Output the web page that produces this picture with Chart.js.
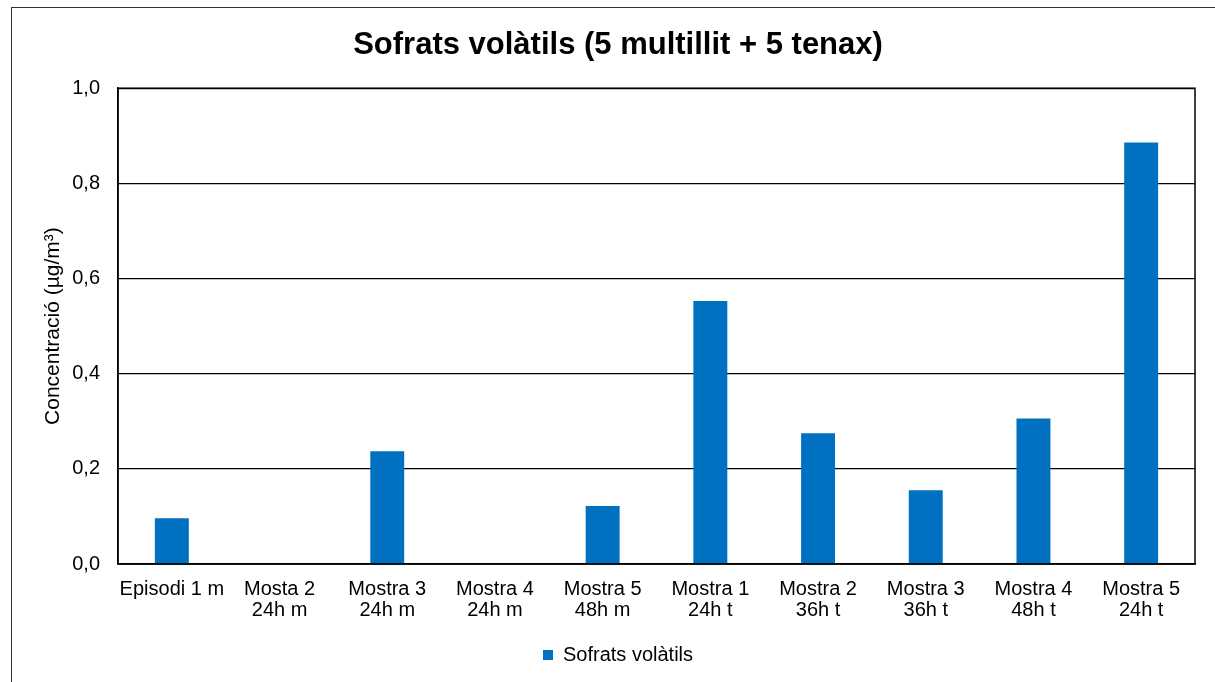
<!DOCTYPE html>
<html>
<head>
<meta charset="utf-8">
<script src="https://cdn.jsdelivr.net/npm/chart.js@4.4.1/dist/chart.umd.min.js"></script>
<style>
  html, body { margin: 0; padding: 0; background: #fff; overflow: hidden; }
  #frame { position: absolute; left: 11px; top: 7px; width: 1300px; height: 800px; border: 1px solid #333; }
  #chart { position: absolute; left: 0; top: 0; }
</style>
</head>
<body>
<div id="frame"></div>
<canvas id="chart" width="1215" height="682"></canvas>
<script>
// data
const categories = [
  ['Episodi 1 m'],
  ['Mosta 2', '24h m'],
  ['Mostra 3', '24h m'],
  ['Mostra 4', '24h m'],
  ['Mostra 5', '48h m'],
  ['Mostra 1', '24h t'],
  ['Mostra 2', '36h t'],
  ['Mostra 3', '36h t'],
  ['Mostra 4', '48h t'],
  ['Mostra 5', '24h t']
];
const sofratsVolatils = [0.096, 0, 0.237, 0, 0.122, 0.553, 0.275, 0.155, 0.306, 0.886];
const yTicks = [0, 0.2, 0.4, 0.6, 0.8, 1.0];

const FONT = 'Arial, "Liberation Sans", sans-serif';

// outline round the plot area (top + right edges)
const plotFrame = {
  id: 'plotFrame',
  afterDraw(chart) {
    const { ctx, chartArea: a } = chart;
    ctx.save();
    ctx.strokeStyle = '#000';
    ctx.lineWidth = 1.5;
    ctx.strokeRect(a.left, a.top, a.right - a.left, a.bottom - a.top);
    ctx.restore();
  }
};

const ctx = document.getElementById('chart').getContext('2d');
const chart = new Chart(ctx, {
  type: 'bar',
  data: {
    labels: categories,
    datasets: [{
      label: 'Sofrats volàtils',
      data: sofratsVolatils,
      backgroundColor: '#0070C0',
      borderWidth: 0,
      barPercentage: 0.315,
      categoryPercentage: 1
    }]
  },
  options: {
    responsive: false,
    animation: false,
    layout: {
      padding: { left: 41, right: 20, top: 0, bottom: 7 }
    },
    scales: {
      x: {
        grid: { display: false, drawTicks: false },
        border: { color: '#000', width: 1.5 },
        afterFit: scale => { scale.height = 71; },
        ticks: {
          color: '#000',
          padding: 15,
          maxRotation: 0,
          autoSkip: false,
          font: { family: FONT, size: 20, lineHeight: 1.05 }
        }
      },
      y: {
        min: 0,
        max: 1,
        afterFit: scale => { scale.width = 77; },
        afterBuildTicks: scale => { scale.ticks = yTicks.map(v => ({ value: v })); },
        grid: { color: '#000', lineWidth: 1.2, drawTicks: false },
        border: { color: '#000', width: 1.5 },
        title: {
          display: true,
          text: 'Concentració (µg/m³)',
          color: '#000',
          padding: 0,
          font: { family: FONT, size: 21 }
        },
        ticks: {
          color: '#000',
          padding: 18,
          font: { family: FONT, size: 20 },
          callback: v => v.toFixed(1).replace('.', ',')
        }
      }
    },
    plugins: {
      title: {
        display: true,
        text: 'Sofrats volàtils (5 multillit + 5 tenax)',
        color: '#000',
        padding: { top: 27, bottom: 24 },
        font: { family: FONT, size: 31, weight: 'bold', lineHeight: 1.2 }
      },
      legend: {
        position: 'bottom',
        labels: {
          color: '#000',
          boxWidth: 10,
          boxHeight: 10,
          padding: 10,
          font: { family: FONT, size: 20 }
        }
      },
      tooltip: { enabled: false }
    }
  },
  plugins: [plotFrame]
});
</script>
</body>
</html>
